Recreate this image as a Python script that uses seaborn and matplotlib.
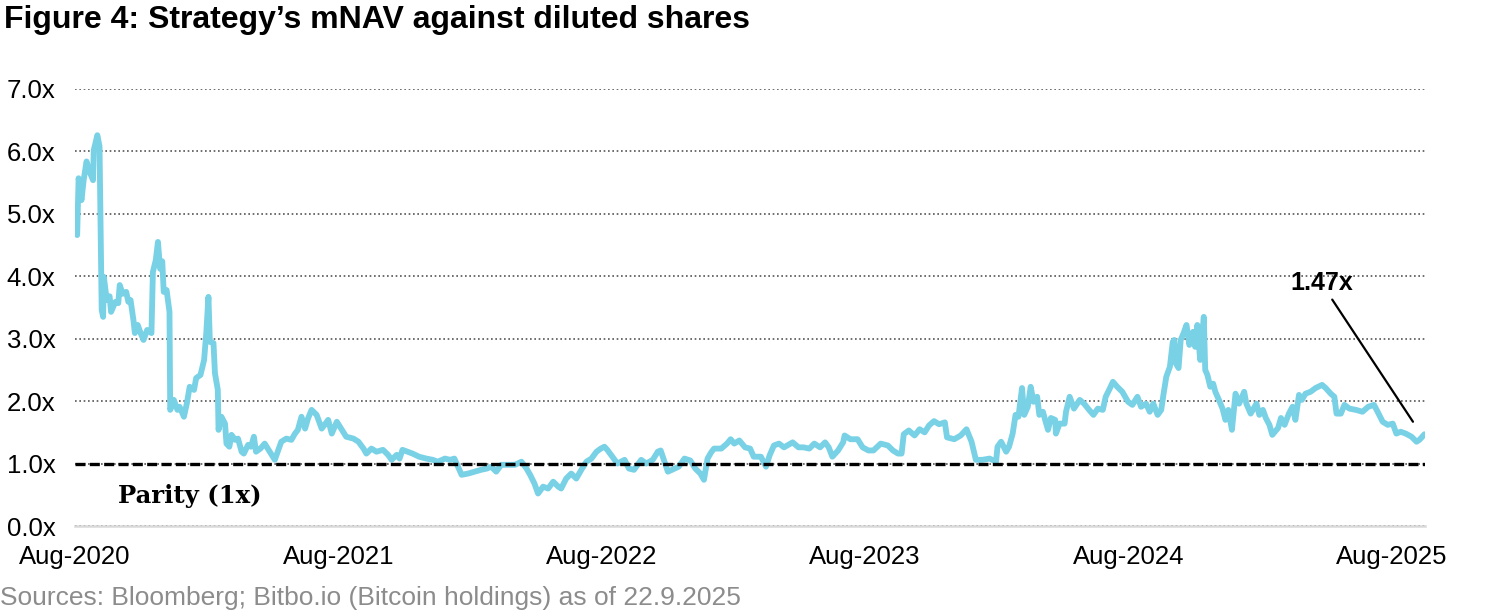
import matplotlib
matplotlib.use("Agg")
import matplotlib.pyplot as plt
import matplotlib.dates as mdates
import seaborn as sns
import pandas as pd

# mNAV (market cap / BTC holdings value)
dates = [
    "2020-08-11", "2020-08-13", "2020-08-17", "2020-08-20", "2020-08-24", "2020-08-28",
    "2020-09-02", "2020-09-03", "2020-09-08", "2020-09-11", "2020-09-14", "2020-09-16",
    "2020-09-17", "2020-09-21", "2020-09-25", "2020-09-27", "2020-10-03", "2020-10-07",
    "2020-10-09", "2020-10-13", "2020-10-18", "2020-10-21", "2020-10-24", "2020-10-28",
    "2020-10-30", "2020-11-03", "2020-11-07", "2020-11-11", "2020-11-16", "2020-11-22",
    "2020-11-24", "2020-11-28", "2020-12-01", "2020-12-04", "2020-12-07", "2020-12-09",
    "2020-12-13", "2020-12-17", "2020-12-18", "2020-12-23", "2020-12-28", "2020-12-31",
    "2021-01-06", "2021-01-10", "2021-01-14", "2021-01-20", "2021-01-23", "2021-01-29",
    "2021-02-03", "2021-02-06", "2021-02-09", "2021-02-11", "2021-02-16", "2021-02-18",
    "2021-02-22", "2021-02-23", "2021-02-27", "2021-03-04", "2021-03-06", "2021-03-10",
    "2021-03-13", "2021-03-18", "2021-03-22", "2021-03-27", "2021-03-30", "2021-04-05",
    "2021-04-09", "2021-04-13", "2021-04-16", "2021-04-22", "2021-04-28", "2021-05-05",
    "2021-05-12", "2021-05-21", "2021-05-28", "2021-06-04", "2021-06-09", "2021-06-13",
    "2021-06-18", "2021-06-23", "2021-06-27", "2021-07-02", "2021-07-09", "2021-07-16",
    "2021-07-20", "2021-07-25", "2021-07-30", "2021-08-06", "2021-08-13", "2021-08-19",
    "2021-08-29", "2021-09-05", "2021-09-12", "2021-09-16", "2021-09-23", "2021-09-30",
    "2021-10-09", "2021-10-16", "2021-10-21", "2021-10-28", "2021-11-01", "2021-11-05",
    "2021-11-12", "2021-11-19", "2021-11-28", "2021-12-08", "2021-12-17", "2021-12-24",
    "2022-01-03", "2022-01-10", "2022-01-16", "2022-01-21", "2022-01-26", "2022-02-04",
    "2022-02-13", "2022-02-22", "2022-03-02", "2022-03-08", "2022-03-15", "2022-03-22",
    "2022-04-01", "2022-04-10", "2022-04-19", "2022-04-26", "2022-05-01", "2022-05-07",
    "2022-05-12", "2022-05-19", "2022-05-26", "2022-06-02", "2022-06-09", "2022-06-13",
    "2022-06-20", "2022-06-27", "2022-07-04", "2022-07-11", "2022-07-18", "2022-07-25",
    "2022-08-01", "2022-08-07", "2022-08-12", "2022-08-16", "2022-08-23", "2022-08-30",
    "2022-09-09", "2022-09-15", "2022-09-22", "2022-10-02", "2022-10-09", "2022-10-18",
    "2022-10-25", "2022-10-29", "2022-11-08", "2022-11-23", "2022-12-01", "2022-12-09",
    "2022-12-16", "2022-12-23", "2022-12-28", "2023-01-02", "2023-01-07", "2023-01-11",
    "2023-01-21", "2023-01-29", "2023-02-03", "2023-02-08", "2023-02-15", "2023-02-23",
    "2023-03-02", "2023-03-07", "2023-03-17", "2023-03-24", "2023-03-29", "2023-04-04",
    "2023-04-11", "2023-04-18", "2023-04-30", "2023-05-08", "2023-05-15", "2023-05-23",
    "2023-05-30", "2023-06-07", "2023-06-14", "2023-06-19", "2023-06-24", "2023-07-02",
    "2023-07-09", "2023-07-11", "2023-07-19", "2023-07-29", "2023-08-05", "2023-08-13",
    "2023-08-20", "2023-08-30", "2023-09-09", "2023-09-16", "2023-09-23", "2023-09-28",
    "2023-10-01", "2023-10-08", "2023-10-16", "2023-10-23", "2023-10-30", "2023-11-05",
    "2023-11-12", "2023-11-19", "2023-11-27", "2023-11-30", "2023-12-10", "2023-12-19",
    "2023-12-27", "2024-01-03", "2024-01-09", "2024-01-18", "2024-01-28", "2024-02-06",
    "2024-02-08", "2024-02-13", "2024-02-20", "2024-02-24", "2024-02-29", "2024-03-04",
    "2024-03-08", "2024-03-13", "2024-03-16", "2024-03-21", "2024-03-25", "2024-03-29",
    "2024-04-03", "2024-04-06", "2024-04-11", "2024-04-14", "2024-04-18", "2024-04-22",
    "2024-04-28", "2024-04-29", "2024-05-04", "2024-05-11", "2024-05-13", "2024-05-18",
    "2024-05-24", "2024-06-01", "2024-06-07", "2024-06-14", "2024-06-20", "2024-06-26",
    "2024-07-03", "2024-07-07", "2024-07-13", "2024-07-17", "2024-07-23", "2024-07-30",
    "2024-08-07", "2024-08-13", "2024-08-20", "2024-08-25", "2024-09-01", "2024-09-06",
    "2024-09-11", "2024-09-17", "2024-09-22", "2024-09-25", "2024-09-29", "2024-10-04",
    "2024-10-08", "2024-10-10", "2024-10-12", "2024-10-16", "2024-10-19", "2024-10-23",
    "2024-10-27", "2024-10-31", "2024-11-05", "2024-11-08", "2024-11-11", "2024-11-15",
    "2024-11-18", "2024-11-20", "2024-11-22", "2024-11-25", "2024-11-29", "2024-12-03",
    "2024-12-06", "2024-12-11", "2024-12-16", "2024-12-20", "2024-12-24", "2024-12-29",
    "2025-01-03", "2025-01-08", "2025-01-15", "2025-01-18", "2025-01-24", "2025-02-01",
    "2025-02-05", "2025-02-10", "2025-02-14", "2025-02-19", "2025-02-23", "2025-03-03",
    "2025-03-07", "2025-03-12", "2025-03-18", "2025-03-23", "2025-03-27", "2025-04-01",
    "2025-04-05", "2025-04-10", "2025-04-17", "2025-04-24", "2025-05-03", "2025-05-08",
    "2025-05-15", "2025-05-20", "2025-05-23", "2025-05-29", "2025-06-03", "2025-06-10",
    "2025-06-19", "2025-06-28", "2025-07-06", "2025-07-14", "2025-07-19", "2025-07-26",
    "2025-08-02", "2025-08-09", "2025-08-14", "2025-08-20", "2025-08-27", "2025-09-04",
    "2025-09-11", "2025-09-15", "2025-09-22",
]
mnav = [
    4.66, 5.57, 5.22, 5.54, 5.84, 5.68,
    5.54, 6.02, 6.26, 6.08, 3.46, 3.35,
    3.99, 3.62, 3.68, 3.43, 3.59, 3.57,
    3.86, 3.72, 3.75, 3.59, 3.62, 3.30,
    3.09, 3.22, 3.09, 2.98, 3.14, 3.09,
    4.07, 4.26, 4.55, 4.12, 4.24, 3.75,
    3.78, 3.43, 1.86, 2.02, 1.86, 1.91,
    1.75, 1.96, 2.23, 2.18, 2.37, 2.42,
    2.66, 3.09, 3.67, 2.95, 2.93, 2.45,
    2.18, 1.54, 1.75, 1.64, 1.32, 1.27,
    1.46, 1.38, 1.40, 1.19, 1.16, 1.30,
    1.27, 1.43, 1.19, 1.24, 1.32, 1.19,
    1.06, 1.35, 1.40, 1.38, 1.48, 1.54,
    1.75, 1.56, 1.72, 1.86, 1.78, 1.56,
    1.62, 1.70, 1.48, 1.67, 1.54, 1.43,
    1.40, 1.35, 1.24, 1.16, 1.24, 1.19,
    1.22, 1.14, 1.06, 1.14, 1.08, 1.22,
    1.19, 1.16, 1.11, 1.08, 1.06, 1.03,
    1.08, 1.06, 1.08, 0.95, 0.82, 0.84,
    0.87, 0.90, 0.92, 0.95, 0.87, 0.98,
    0.98, 0.98, 1.03, 0.92, 0.82, 0.68,
    0.52, 0.63, 0.60, 0.71, 0.63, 0.60,
    0.76, 0.84, 0.76, 0.90, 1.03, 1.08,
    1.19, 1.24, 1.27, 1.22, 1.11, 1.00,
    1.06, 0.92, 0.90, 1.06, 1.00, 1.06,
    1.19, 1.21, 0.87, 0.95, 1.08, 1.05,
    0.92, 0.84, 0.74, 1.08, 1.18, 1.24,
    1.24, 1.32, 1.39, 1.32, 1.37, 1.26,
    1.24, 1.11, 1.11, 0.95, 1.13, 1.29,
    1.32, 1.26, 1.34, 1.26, 1.26, 1.24,
    1.32, 1.26, 1.34, 1.26, 1.11, 1.21,
    1.34, 1.45, 1.39, 1.39, 1.26, 1.21,
    1.21, 1.32, 1.29, 1.21, 1.16, 1.16,
    1.47, 1.53, 1.45, 1.55, 1.50, 1.61,
    1.68, 1.63, 1.66, 1.42, 1.39, 1.45,
    1.55, 1.35, 1.06, 1.06, 1.08, 1.03,
    1.27, 1.35, 1.19, 1.27, 1.48, 1.78,
    1.75, 2.21, 1.78, 1.91, 2.23, 1.99,
    2.07, 1.78, 1.83, 1.70, 1.54, 1.73,
    1.70, 1.48, 1.64, 1.64, 1.83, 2.07,
    1.88, 2.02, 1.96, 1.86, 1.78, 1.88,
    1.86, 2.07, 2.21, 2.31, 2.23, 2.15,
    1.99, 1.94, 2.07, 1.91, 1.96, 1.83,
    1.96, 1.78, 1.86, 2.10, 2.39, 2.55,
    2.95, 2.98, 2.61, 2.53, 2.98, 3.09,
    3.22, 2.90, 3.11, 2.87, 3.22, 2.66,
    3.09, 3.35, 2.50, 2.42, 2.23, 2.28,
    2.15, 2.02, 1.88, 1.70, 1.86, 1.54,
    2.12, 1.96, 2.15, 1.96, 1.80, 1.96,
    1.78, 1.86, 1.73, 1.62, 1.46, 1.57,
    1.73, 1.62, 1.80, 1.91, 1.70, 2.10,
    2.02, 2.12, 2.15, 2.21, 2.26, 2.21,
    2.12, 2.07, 1.80, 1.80, 1.94, 1.88,
    1.86, 1.83, 1.91, 1.94, 1.83, 1.67,
    1.62, 1.64, 1.48, 1.51, 1.48, 1.43,
    1.35, 1.38, 1.47,
]

tick_dates = ["2020-08-08", "2021-08-08", "2022-08-08", "2023-08-08", "2024-08-08", "2025-08-08"]
tick_labels = ["Aug-2020", "Aug-2021", "Aug-2022", "Aug-2023", "Aug-2024", "Aug-2025"]
y_ticks = [0, 1, 2, 3, 4, 5, 6, 7]
parity = 1.0

df = pd.DataFrame({"date": pd.to_datetime(dates), "mnav": mnav})

sns.set_style("white")
plt.rcParams["font.family"] = ["Liberation Sans", "DejaVu Sans"]
plt.rcParams["text.color"] = "black"
plt.rcParams["xtick.color"] = "black"
plt.rcParams["ytick.color"] = "black"

fig = plt.figure(figsize=(15, 6.13), dpi=100)
ax = fig.add_axes([75 / 1500, 1 - 526 / 613, (1424.5 - 75) / 1500, (526 - 89) / 613])

sns.lineplot(data=df, x="date", y="mnav", ax=ax, color="#79d1e6",
             linewidth=4.2, estimator=None, zorder=3)

ax.axhline(parity, color="black", linewidth=2.4, linestyle=(0, (3, 1.3)), zorder=4)

ax.set_xlim(pd.Timestamp("2020-08-08"), pd.Timestamp("2025-09-22"))
ax.set_ylim(0, 7)
ax.set_yticks(y_ticks)
ax.set_yticklabels([f"{v:.1f}x" for v in y_ticks])
ax.set_xticks(pd.to_datetime(tick_dates))
ax.set_xticklabels(tick_labels)
ax.set_xlabel("")
ax.set_ylabel("")

ax.yaxis.grid(True, color="#555555", linestyle=(0, (1, 1.6)), linewidth=1.2)
ax.xaxis.grid(False)
ax.set_axisbelow(True)
ax.tick_params(axis="y", length=0, labelsize=18.5, pad=14, labelcolor="black")
ax.tick_params(axis="x", length=0, labelsize=18.5, pad=14, labelcolor="black")

for side in ["left", "top", "right"]:
    ax.spines[side].set_visible(False)
ax.spines["bottom"].set_color("#d9d9d9")
ax.spines["bottom"].set_linewidth(1.8)
ax.spines["bottom"].set_zorder(2.6)

ax.text(mdates.date2num(pd.Timestamp("2020-10-06")), 0.48, "Parity (1x)",
        family="DejaVu Serif", fontweight="bold", fontsize=17.5, color="black",
        ha="left", va="center")

ax.annotate(f"{mnav[-1]:.2f}x",
            xy=(mdates.date2num(pd.Timestamp("2025-09-06")), 1.67),
            xytext=(mdates.date2num(pd.Timestamp("2025-05-02")), 3.89),
            ha="center", va="center", fontsize=18, fontweight="bold", color="black",
            arrowprops=dict(arrowstyle="-", color="black", lw=1.6,
                            shrinkA=1, shrinkB=0))

fig.text(0.003, 1 - 20 / 613, "Figure 4: Strategy\u2019s mNAV against diluted shares",
         fontsize=23, fontweight="bold", color="black", ha="left", va="center")
fig.text(0.0, 1 - 598 / 613, "Sources: Bloomberg; Bitbo.io (Bitcoin holdings) as of 22.9.2025",
         fontsize=19, color="#8c8c8c", ha="left", va="center")

fig.savefig("out.png", dpi=100, facecolor="white")
